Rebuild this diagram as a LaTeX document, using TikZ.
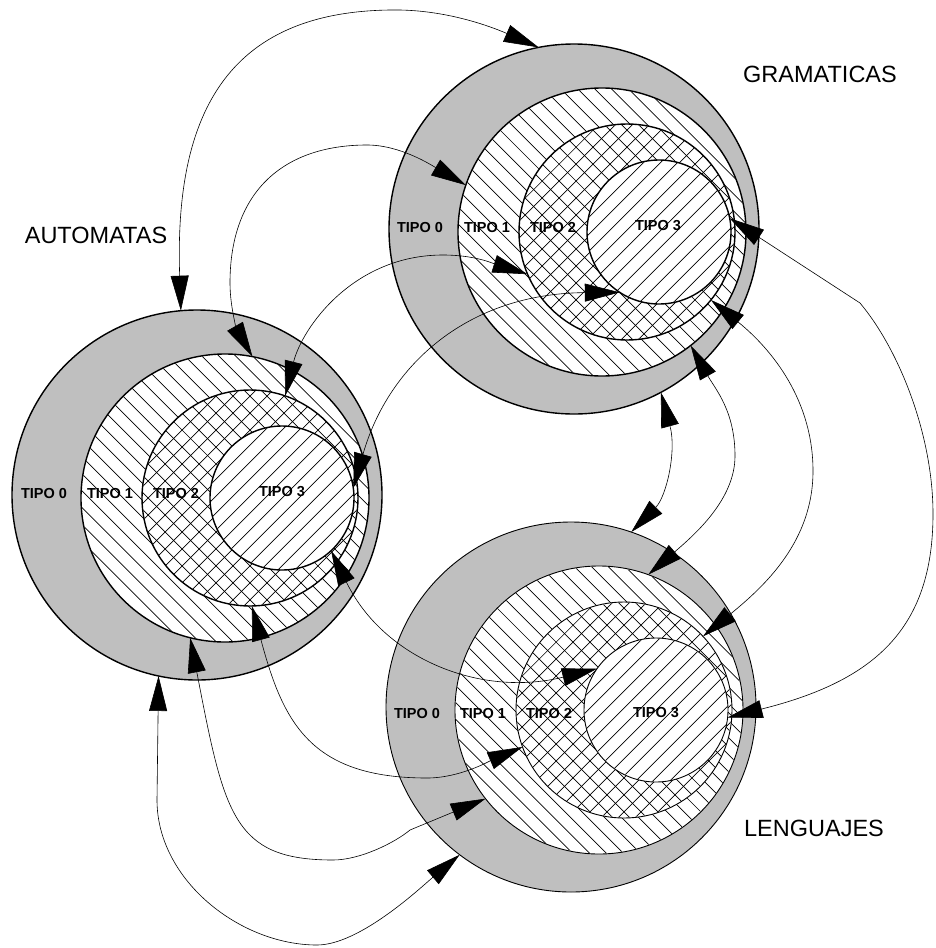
\documentclass[tikz,border=0pt]{standalone}
\usepackage{fontspec}
\setmainfont{Liberation Sans}
\usetikzlibrary{arrows.meta}

\definecolor{bandgray}{gray}{0.75}
\newcommand\hatchgap{12}

% parallel hatch lines inside a disc node (#1 node, #2 radius, #3 line angle)
\newcommand\hatchdisc[3]{%
  \begin{scope}[shift={(#1.center)},rotate=#3]
    \clip (0,0) circle[radius=#2-0.6];
    \foreach \k in {-14,...,14}
      \draw[hatchline] (-#2,\k*\hatchgap) -- (#2,\k*\hatchgap);
  \end{scope}}

% one family of nested classes: outer band, then three offset discs
\newcommand\circleset[4]{%
  \begin{scope}[line width=#4]
    \node[ring0] (#1-0) at (#2,#3) {};
    \node[ring1] (#1-1) at (#2+28,#3-3) {};
    \hatchdisc{#1-1}{144}{-45}
    \node[ring2] (#1-2) at (#2+53,#3-3) {};
    \hatchdisc{#1-2}{108}{-45}
    \hatchdisc{#1-2}{108}{45}
    \node[ring3] (#1-3) at (#2+85,#3-3) {};
    \hatchdisc{#1-3}{72}{45}
  \end{scope}}

\begin{document}
\begin{tikzpicture}[x=1pt,y=1pt,
  disc/.style={circle,inner sep=0pt,outer sep=0pt,draw=black},
  ring0/.style={disc,fill=bandgray,minimum size=370pt},
  ring1/.style={disc,fill=white,minimum size=288pt},
  ring2/.style={disc,fill=white,minimum size=216pt},
  ring3/.style={disc,fill=white,minimum size=144pt},
  hatchline/.style={line width=0.7pt},
  tipo/.style={inner sep=0pt,anchor=base,font=\bfseries\fontsize{14.5}{17}\selectfont},
  title/.style={inner sep=0pt,anchor=base,font=\fontsize{23.5}{28}\selectfont},
  link/.style={line width=0.6pt,
    {Triangle[length=35pt,width=18pt]}-{Triangle[length=35pt,width=18pt]}},
]
\useasboundingbox (0,0) rectangle (935,-948);

% the three families
\circleset{A}{197}{-495}{1.4pt}
\circleset{G}{574}{-229}{1.4pt}
\circleset{L}{571}{-707}{0.9pt}

% class labels
\node[tipo] (A-t0) at (44,-498) {TIPO 0};
\node[tipo] (A-t1) at (110,-498) {TIPO 1};
\node[tipo] (A-t2) at (176,-498) {TIPO 2};
\node[tipo] (A-t3) at (282,-496) {TIPO 3};
\node[tipo] (G-t0) at (420,-232) {TIPO 0};
\node[tipo] (G-t1) at (487,-232) {TIPO 1};
\node[tipo] (G-t2) at (553,-232) {TIPO 2};
\node[tipo] (G-t3) at (658,-230) {TIPO 3};
\node[tipo] (L-t0) at (417,-718) {TIPO 0};
\node[tipo] (L-t1) at (483,-718) {TIPO 1};
\node[tipo] (L-t2) at (549,-718) {TIPO 2};
\node[tipo] (L-t3) at (656,-717) {TIPO 3};

% family names
\node[title] (gram) at (820,-82) {GRAMATICAS};
\node[title] (auto) at (96,-243) {AUTOMATAS};
\node[title] (leng) at (814,-836) {LENGUAJES};

% automata <-> grammars
\draw[link] (A-0.95) .. controls (174,-110) and (230,-8) .. (400,-10)
  .. controls (450,-11) and (492,-27) .. (G-0.101);
\draw[link] (A-1.79) .. controls (237.5,-330.6) and (230,-308) .. (230,-283)
  .. controls (230,-190) and (285,-145) .. (367,-145)
  .. controls (400,-145) and (430.9,-164.8) .. (G-1.161);
\draw[link] (A-2.71) .. controls (302,-328) and (353,-255) .. (443,-255)
  .. controls (475,-255) and (493.5,-263.6) .. (G-2.203);
\draw[link] (A-3.8) .. controls (389.1,-363) and (469.8,-293.4) .. (G-3.237);

% automata <-> languages
\draw[link] (A-3.313) .. controls (383.6,-658.6) and (480.6,-697.7) .. (L-3.145);
\draw[link] (A-2.271) .. controls (283,-722) and (310,-778) .. (427,-778)
  .. controls (460,-778) and (490.3,-760.7) .. (L-2.200);
\draw[link] (A-1.256) .. controls (224.3,-814.4) and (233,-860) .. (333,-860)
  .. controls (360,-860) and (394.6,-842.8) .. (410,-830) -- (L-1.218);
\draw[link] (A-0.258) -- (157,-800) .. controls (157,-880) and (240,-945) .. (317,-945)
  .. controls (360,-945) and (421.4,-886.9) .. (L-0.233);

% grammars <-> languages
\draw[link] (G-0.298) .. controls (676.8,-451) and (666.4,-496.6) .. (L-0.71);
\draw[link] (G-1.308) .. controls (715.5,-389.4) and (735,-411) .. (735,-456)
  .. controls (735,-500) and (693.6,-535.5) .. (L-1.70);
\draw[link] (G-2.321) .. controls (773,-350.3) and (813,-401) .. (813,-471)
  .. controls (813,-541) and (765.2,-585.7) .. (L-2.43);
\draw[link] (G-3.11) -- (860,-303) .. controls (898.6,-349) and (933,-434) .. (933,-514)
  .. controls (933,-630) and (873.1,-681.2) .. (L-3.354);
\end{tikzpicture}
\end{document}
